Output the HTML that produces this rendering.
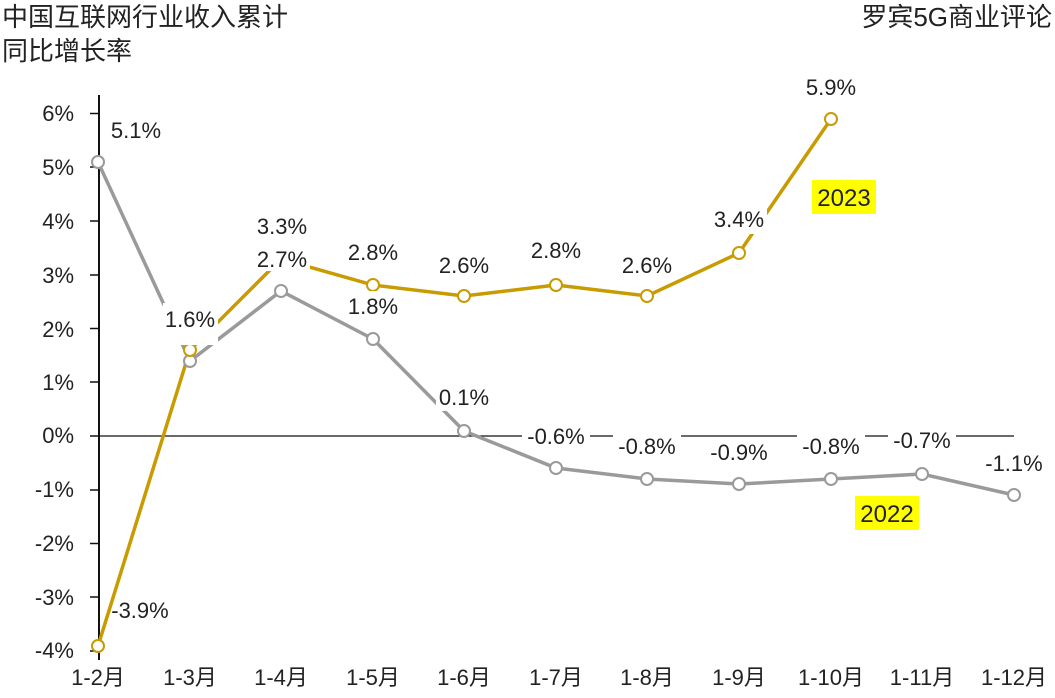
<!DOCTYPE html><html><head><meta charset="utf-8"><style>
body{margin:0;background:#fff;width:1055px;height:693px;overflow:hidden}
svg text{font-family:"Liberation Sans","Noto Sans CJK SC",sans-serif;fill:#222}
</style></head><body>
<svg width="1055" height="693" xmlns="http://www.w3.org/2000/svg">
<text x="2" y="26" font-size="26">中国互联网行业收入累计</text>
<text x="2" y="60" font-size="26">同比增长率</text>
<text x="1052" y="26" font-size="26" text-anchor="end">罗宾5G商业评论</text>
<g font-size="22" text-anchor="end">
<text x="74" y="121">6%</text><text x="74" y="175">5%</text><text x="74" y="229">4%</text><text x="74" y="283">3%</text><text x="74" y="337">2%</text><text x="74" y="390">1%</text><text x="74" y="443">0%</text><text x="74" y="497">-1%</text><text x="74" y="551">-2%</text><text x="74" y="605">-3%</text><text x="74" y="658">-4%</text>
</g>
<g stroke="#111" stroke-width="1.5">
<line x1="99" y1="95" x2="99" y2="660" stroke-width="2"/>
<line x1="90" y1="113.5" x2="99" y2="113.5"/><line x1="90" y1="167" x2="99" y2="167"/><line x1="90" y1="221" x2="99" y2="221"/><line x1="90" y1="275" x2="99" y2="275"/><line x1="90" y1="328.5" x2="99" y2="328.5"/><line x1="90" y1="382" x2="99" y2="382"/><line x1="90" y1="436" x2="99" y2="436"/><line x1="90" y1="490" x2="99" y2="490"/><line x1="90" y1="543.5" x2="99" y2="543.5"/><line x1="90" y1="597" x2="99" y2="597"/><line x1="90" y1="651" x2="99" y2="651"/>
<line x1="99" y1="436" x2="1014" y2="436" stroke-width="1.2"/>
</g>
<g font-size="22" text-anchor="middle">
<text x="98" y="685">1-2月</text><text x="190" y="685">1-3月</text><text x="281" y="685">1-4月</text><text x="373" y="685">1-5月</text><text x="464" y="685">1-6月</text><text x="556" y="685">1-7月</text><text x="647" y="685">1-8月</text><text x="739" y="685">1-9月</text><text x="831" y="685">1-10月</text><text x="922" y="685">1-11月</text><text x="1014" y="685">1-12月</text>
</g>
<polyline fill="none" stroke="#9a9a9a" stroke-width="3.5" points="98,162 190,361 281,291 373,339 464,431 556,468 647,479 739,484 831,479 922,474 1014,495"/>
<polyline fill="none" stroke="#c89b00" stroke-width="3.5" points="98,646 190,350 281,259 373,285 464,296 556,285 647,296 739,253 831,119"/>
<g fill="#fff" stroke="#9a9a9a" stroke-width="2">
<circle cx="98" cy="162" r="6"/><circle cx="190" cy="361" r="6"/><circle cx="281" cy="291" r="6"/><circle cx="373" cy="339" r="6"/><circle cx="464" cy="431" r="6"/><circle cx="556" cy="468" r="6"/><circle cx="647" cy="479" r="6"/><circle cx="739" cy="484" r="6"/><circle cx="831" cy="479" r="6"/><circle cx="922" cy="474" r="6"/><circle cx="1014" cy="495" r="6"/>
</g>
<g fill="#fff" stroke="#c89b00" stroke-width="2">
<circle cx="98" cy="646" r="6"/><circle cx="190" cy="350" r="6"/><circle cx="373" cy="285" r="6"/><circle cx="464" cy="296" r="6"/><circle cx="556" cy="285" r="6"/><circle cx="647" cy="296" r="6"/><circle cx="739" cy="253" r="6"/><circle cx="831" cy="119" r="6"/>
</g>
<g fill="#fff">
<rect x="254" y="243" width="56" height="28"/><rect x="254" y="210" width="56" height="30"/>
<rect x="163" y="303" width="55" height="42"/>
<rect x="345" y="291" width="56" height="28"/><rect x="436" y="383" width="56" height="28"/>
<rect x="522" y="423" width="68" height="26"/><rect x="613" y="433" width="68" height="26"/>
<rect x="705" y="439" width="68" height="26"/><rect x="797" y="433" width="68" height="26"/>
<rect x="888" y="427" width="68" height="26"/><rect x="711" y="204" width="56" height="30"/>
</g>
<g font-size="22" text-anchor="middle">
<text x="136" y="138">5.1%</text><text x="140" y="618">-3.9%</text>
<text x="190" y="327">1.6%</text>
<text x="282" y="234">3.3%</text><text x="282" y="267">2.7%</text>
<text x="373" y="260">2.8%</text><text x="373" y="314">1.8%</text>
<text x="464" y="273">2.6%</text><text x="464" y="405">0.1%</text>
<text x="556" y="258">2.8%</text><text x="556" y="444">-0.6%</text>
<text x="647" y="273">2.6%</text><text x="647" y="454">-0.8%</text>
<text x="739" y="227">3.4%</text><text x="739" y="460">-0.9%</text>
<text x="831" y="95">5.9%</text><text x="831" y="454">-0.8%</text>
<text x="922" y="448">-0.7%</text><text x="1014" y="471">-1.1%</text>
</g>
<rect x="812" y="180" width="64" height="34" fill="#ffff00"/>
<text x="844" y="206" font-size="24" text-anchor="middle">2023</text>
<rect x="855" y="496" width="64" height="34" fill="#ffff00"/>
<text x="887" y="522" font-size="24" text-anchor="middle">2022</text>
</svg>
</body></html>
